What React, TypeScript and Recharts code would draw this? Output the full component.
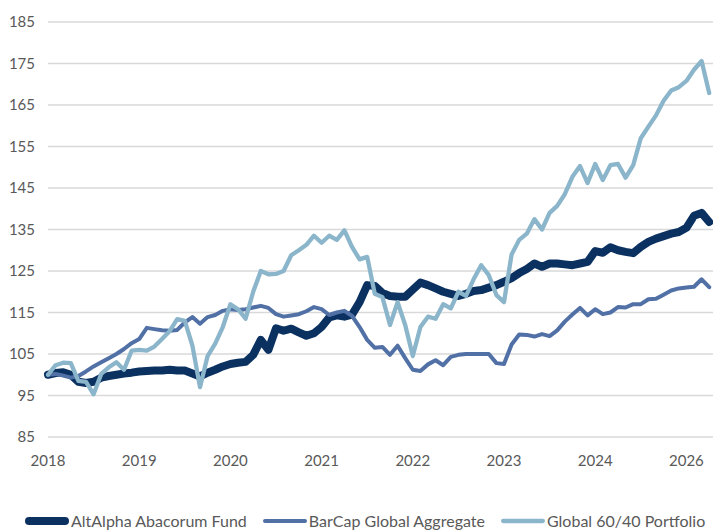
import { LineChart, Line, XAxis, YAxis, CartesianGrid, Legend } from 'recharts'

// monthly index values, Jan 2018 = 100
const altAlpha = [
  100, 100.4, 100.6, 100, 98.3, 98, 98.3, 99.3, 99.7, 100,
  100.3, 100.5, 100.8, 100.9, 101, 101, 101.2, 101, 101, 100.3,
  99.6, 100.5, 101.2, 102, 102.6, 102.9, 103.1, 104.8, 108.4, 106,
  111.2, 110.6, 111.1, 110.2, 109.4, 110, 111.5, 113.8, 114.3, 114,
  114.5, 117.5, 121.6, 121.4, 119.7, 119, 118.8, 118.8, 120.5, 122.2,
  121.6, 120.8, 120, 119.5, 119, 119.5, 120.2, 120.4, 121, 121.6,
  122.4, 123.3, 124.5, 125.5, 126.8, 126, 126.8, 126.8, 126.6, 126.4,
  126.8, 127.2, 129.8, 129.4, 130.7, 130, 129.6, 129.3, 130.8, 132,
  132.8, 133.4, 134, 134.4, 135.4, 138.3, 139, 136.8,
]

const barCap = [
  100, 100.2, 99.8, 99.3, 99.7, 100.8, 102, 103, 104, 105,
  106.2, 107.6, 108.6, 111.3, 111, 110.7, 110.6, 110.8, 112.6, 113.9,
  112.3, 113.9, 114.4, 115.4, 115.8, 115.6, 115.8, 116.2, 116.6, 116.1,
  114.6, 114, 114.3, 114.6, 115.3, 116.3, 115.8, 114.4, 115, 115.4,
  114.2, 111.5, 108.4, 106.5, 106.7, 104.8, 107, 104, 101.2, 100.9,
  102.5, 103.5, 102.3, 104.3, 104.8, 105, 105, 105, 105, 102.8,
  102.6, 107.3, 109.7, 109.6, 109.2, 109.8, 109.3, 110.7, 112.8, 114.5,
  116.1, 114.3, 115.8, 114.6, 115, 116.3, 116.2, 117, 117, 118.2,
  118.3, 119.3, 120.3, 120.8, 121, 121.2, 123, 121.1,
]

const global6040 = [
  100, 102.3, 102.9, 102.8, 98.5, 98.3, 95.3, 100.2, 101.8, 103,
  101.2, 105.8, 106, 105.8, 106.8, 108.6, 110.5, 113.4, 113, 107,
  97, 104.5, 107.5, 111.5, 117, 115.8, 113.5, 120, 125, 124.2,
  124.3, 125, 128.8, 130, 131.3, 133.5, 131.8, 133.5, 132.5, 134.8,
  130.8, 127.8, 128.4, 119.5, 118.7, 112, 117.5, 112, 104.5, 111.5,
  114, 113.5, 117, 116, 120, 119, 123, 126.4, 124, 119.2,
  117.5, 129, 132.5, 134, 137.5, 135, 139, 140.7, 143.5, 147.7,
  150.3, 146.2, 150.8, 146.9, 150.5, 150.8, 147.5, 150.5, 157, 159.8,
  162.5, 166, 168.5, 169.3, 170.8, 173.5, 175.6, 167.9,
]

const xTicks = [0, 12, 24, 36, 48, 60, 72, 84]
const xTickLabels = ['2018', '2019', '2020', '2021', '2022', '2023', '2024', '2026']
const yTicks = [85, 95, 105, 115, 125, 135, 145, 155, 165, 175, 185]

const series = [
  { key: 'altAlpha', name: 'AltAlpha Abacorum Fund', color: '#0b3161', width: 8 },
  { key: 'barCap', name: 'BarCap Global Aggregate', color: '#5170a6', width: 4 },
  { key: 'global6040', name: 'Global 60/40 Portfolio', color: '#8bb5ca', width: 4.3 },
]

const data = altAlpha.map((v, i) => ({
  i,
  altAlpha: v,
  barCap: barCap[i],
  global6040: global6040[i],
}))

const font = 'Lato, "Open Sans", sans-serif'

const LegendContent = () => (
  <div
    style={{
      display: 'flex',
      flexWrap: 'nowrap',
      whiteSpace: 'nowrap',
      fontFamily: font,
      fontSize: 16,
      color: '#595959',
    }}
  >
    {series.map((s, idx) => (
      <div
        key={s.key}
        style={{
          display: 'flex',
          flexShrink: 0,
          alignItems: 'center',
          marginLeft: idx === 0 ? 25 : 16,
        }}
      >
        <svg width={44} height={12} style={{ marginRight: 2, flexShrink: 0 }}>
          <line
            x1={s.width / 2}
            y1={6}
            x2={44 - s.width / 2}
            y2={6}
            stroke={s.color}
            strokeWidth={s.width}
            strokeLinecap="round"
          />
        </svg>
        <span>{s.name}</span>
      </div>
    ))}
  </div>
)

export default function App() {
  return (
    <div style={{ position: 'absolute', left: 0, top: 0, background: '#fff' }}>
      <LineChart
        width={713}
        height={532}
        data={data}
        margin={{ top: 22, right: 0, bottom: 65, left: 0 }}
      >
        <CartesianGrid vertical={false} stroke="#d9d9d9" strokeWidth={1.3} />
        <XAxis
          dataKey="i"
          type="number"
          domain={[0, 87.5]}
          ticks={xTicks}
          tickFormatter={(v) => xTickLabels[xTicks.indexOf(v)] ?? ''}
          axisLine={false}
          tickLine={false}
          tickSize={0}
          tickMargin={18}
          height={30}
          tick={{ fill: '#595959', fontSize: 15, fontFamily: font }}
        />
        <YAxis
          domain={[85, 185]}
          ticks={yTicks}
          axisLine={false}
          tickLine={false}
          tickSize={0}
          tickMargin={13}
          width={48}
          tick={{ fill: '#595959', fontSize: 15, fontFamily: font }}
        />
        <Legend
          layout="horizontal"
          verticalAlign="middle"
          align="center"
          wrapperStyle={{ top: 511, left: 0, width: 713, overflow: 'visible' }}
          content={<LegendContent />}
        />
        {series.map((s) => (
          <Line
            key={s.key}
            dataKey={s.key}
            name={s.name}
            type="linear"
            stroke={s.color}
            strokeWidth={s.width}
            strokeLinejoin="round"
            strokeLinecap="round"
            dot={false}
            activeDot={false}
            isAnimationActive={false}
          />
        ))}
      </LineChart>
    </div>
  )
}
